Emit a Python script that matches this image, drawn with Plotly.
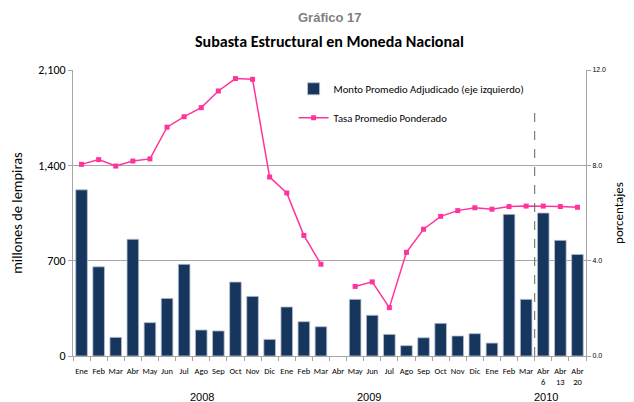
import plotly.graph_objects as go

months = ["Ene", "Feb", "Mar", "Abr", "May", "Jun", "Jul", "Ago", "Sep", "Oct", "Nov", "Dic"]
labels_2008 = months
labels_2009 = months
labels_2010 = ["Ene", "Feb", "Mar", "Abr<br>6", "Abr<br>13", "Abr<br>20"]
years = ["2008", "2009", "2010"]

tick_labels = labels_2008 + labels_2009 + labels_2010
categories = ([f"{m} 2008" for m in labels_2008] + [f"{m} 2009" for m in labels_2009]
              + [f"{m.replace('<br>', ' ')} 2010" for m in labels_2010])

monto = [1220, 655, 137, 857, 245, 423, 673, 191, 184, 543, 438, 122,
         360, 252, 215, None, 416, 299, 159, 76, 134, 240, 147, 164,
         95, 1040, 416, 1050, 849, 746]

tasa = [8.04, 8.24, 7.97, 8.18, 8.27, 9.60, 10.04, 10.42, 11.12, 11.64, 11.61, 7.51,
        6.84, 5.06, 3.85, None, 2.92, 3.11, 2.03, 4.35, 5.32, 5.86, 6.10, 6.22,
        6.16, 6.27, 6.29, 6.29, 6.27, 6.24]

bar_color = "#17365d"
line_color = "#ff339c"
grid_color = "#a6a6a6"
font_main = "Carlito, Lato, 'Liberation Sans', sans-serif"
font_arial = "Arial, 'Liberation Sans', sans-serif"

fig = go.Figure()
fig.add_trace(go.Bar(
    x=categories, y=monto, name="Monto Promedio Adjudicado (eje izquierdo)",
    marker=dict(color=bar_color, line=dict(color="#b8c2d0", width=0.8)),
    legendgroup="a",
))
fig.add_trace(go.Scatter(
    x=categories, y=tasa, name="Tasa Promedio Ponderado", yaxis="y2",
    mode="lines+markers", connectgaps=False,
    line=dict(color=line_color, width=1.5),
    marker=dict(symbol="square", size=5, color=line_color),
    legendgroup="b",
))

split_idx = categories.index("Mar 2010") + 0.5
fig.add_shape(type="line", xref="x", yref="y", x0=split_idx, x1=split_idx, y0=0, y1=1795,
              line=dict(color="#606060", width=1, dash="dash"))

year_pos = [0.2515, 0.577, 0.922]
for yr, xp in zip(years, year_pos):
    fig.add_annotation(text=yr, x=xp, y=-0.143, xref="paper", yref="paper",
                       xanchor="center", yanchor="middle",
                       showarrow=False, font=dict(family=font_arial, size=11, color="#000000"))

fig.add_annotation(text="<b>Gráfico 17</b>", x=0.5, y=1.185, xref="paper", yref="paper",
                   xanchor="center", yanchor="middle",
                   showarrow=False, font=dict(family=font_arial, size=13, color="#808080"))
fig.add_annotation(text="<b>Subasta Estructural en Moneda Nacional</b>", x=0.5, y=1.098,
                   xref="paper", yref="paper", xanchor="center", yanchor="middle",
                   showarrow=False, font=dict(family=font_main, size=16, color="#000000"))

# page body adds an 8px offset; size the figure so the plot lands where the reference has it
fig.update_layout(
    width=626, height=394,
    margin=dict(l=65, r=48, t=62, b=46),
    paper_bgcolor="white", plot_bgcolor="white",
    bargap=0.32,
    font=dict(family=font_main, color="#000000"),
    showlegend=True,
    legend=dict(x=0.43, y=0.985, xanchor="left", yanchor="top",
                bgcolor="rgba(0,0,0,0)", font=dict(family=font_main, size=10.7),
                traceorder="grouped", tracegroupgap=10, itemwidth=30),
    xaxis=dict(
        type="category", tickmode="array", tickvals=categories, ticktext=tick_labels,
        tickson="boundaries", ticks="outside", ticklen=4, tickcolor=grid_color,
        showline=True, linecolor=grid_color, linewidth=1, showgrid=False,
        tickfont=dict(family=font_main, size=8.5), tickangle=0, ticklabelstandoff=7,
        range=[-0.5, len(categories) - 0.5], automargin=False,
    ),
    yaxis=dict(
        range=[0, 2100], tickvals=[0, 700, 1400, 2100], ticktext=["0", "700", "1,400", "2,100"],
        showgrid=True, gridcolor=grid_color, gridwidth=1,
        showline=True, linecolor=grid_color, ticks="outside", ticklen=4, tickcolor=grid_color,
        tickfont=dict(family=font_main, size=12),
        title=dict(text="millones de lempiras", font=dict(family=font_main, size=14.5), standoff=16),
        zeroline=False, automargin=False,
    ),
    yaxis2=dict(
        range=[0, 12], tickvals=[0, 4, 8, 12], ticktext=["0.0", "4.0", "8.0", "12.0"],
        overlaying="y", side="right", showgrid=False,
        showline=True, linecolor=grid_color, ticks="outside", ticklen=4, tickcolor=grid_color,
        tickfont=dict(family=font_arial, size=7),
        title=dict(text="porcentajes", font=dict(family=font_main, size=13), standoff=8),
        zeroline=False, automargin=False,
    ),
)

fig.write_html("out.html")
